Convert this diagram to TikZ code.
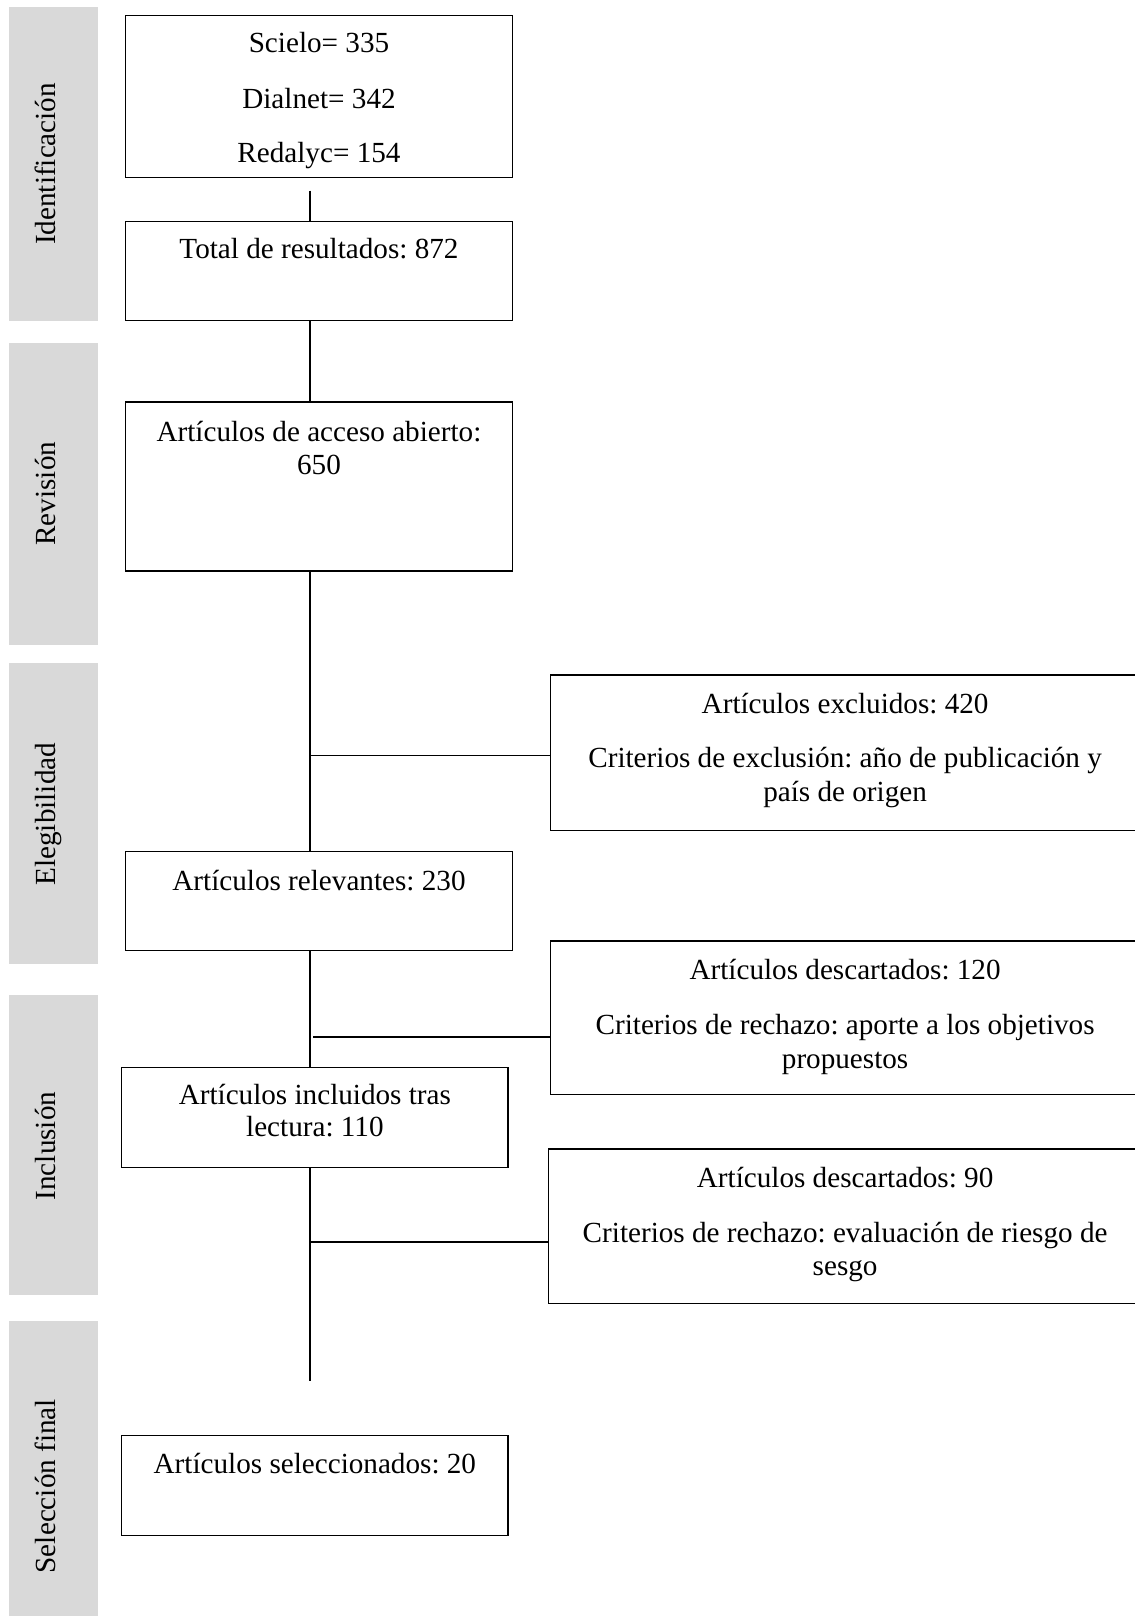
\documentclass[tikz,border=0pt]{standalone}
\usepackage{fontspec}
\setmainfont{Liberation Serif}
\frenchspacing
\definecolor{bandgray}{HTML}{D9D9D9}
\begin{document}
\begin{tikzpicture}[x=0.5pt,y=-0.5pt,
  band/.style={fill=bandgray, draw=none},
  boxn/.style={draw=black, line width=0.7pt, rectangle, inner sep=0pt, minimum width=187.5pt},
  txt/.style={anchor=base, inner sep=0pt, font=\fontsize{14.15pt}{16.25pt}\selectfont},
  bandtxt/.style={anchor=base, rotate=90, inner sep=0pt, font=\fontsize{14.15pt}{16.25pt}\selectfont},
  conn/.style={line width=0.85pt, draw=black}]
\useasboundingbox (0,0) rectangle (1101,1568);

% phase bands
\fill[band] (9,7) rectangle (95,311);
\fill[band] (9,333) rectangle (95,626);
\fill[band] (9,643) rectangle (95,935);
\fill[band] (9,965) rectangle (95,1257);
\fill[band] (9,1282) rectangle (95,1568);
\node[bandtxt] (p1) at (54,159) {Identificación};
\node[bandtxt] (p2) at (54,479) {Revisión};
\node[bandtxt] (p3) at (54,790) {Elegibilidad};
\node[bandtxt] (p4) at (54,1112) {Inclusión};
\node[bandtxt] (p5) at (54,1442) {Selección final};

% boxes
\node[boxn, minimum height=78.5pt] (b1) at (309.5,93.5) {};
\node[boxn, minimum height=48pt] (b2) at (309.5,263) {};
\node[boxn, minimum height=82pt] (b3) at (309.5,472) {};
\node[boxn, minimum width=286pt, minimum height=75.5pt] (b4) at (820,730.5) {};
\node[boxn, minimum height=48pt] (b5) at (309.5,874) {};
\node[boxn, minimum width=286pt, minimum height=74.5pt] (b6) at (820,987.5) {};
\node[boxn, minimum height=48.5pt] (b7) at (305.5,1084.5) {};
\node[boxn, minimum width=288pt, minimum height=75pt] (b8) at (820,1190) {};
\node[boxn, minimum height=48.5pt] (b9) at (305.5,1441.5) {};

% texts
\node[txt] (t1a) at (309.5,51) {Scielo= 335};
\node[txt] (t1b) at (309.5,105) {Dialnet= 342};
\node[txt] (t1c) at (309.5,158) {Redalyc= 154};
\node[txt] (t2) at (309.5,251) {Total de resultados: 872};
\node[txt] (t3a) at (309.5,428) {Artículos de acceso abierto:};
\node[txt] (t3b) at (309.5,460) {650};
\node[txt] (t4a) at (820,692) {Artículos excluidos: 420};
\node[txt] (t4b) at (820,745) {Criterios de exclusión: año de publicación y};
\node[txt] (t4c) at (820,778) {país de origen};
\node[txt] (t5) at (309.5,864) {Artículos relevantes: 230};
\node[txt] (t6a) at (820,950) {Artículos descartados: 120};
\node[txt] (t6b) at (820,1004) {Criterios de rechazo: aporte a los objetivos};
\node[txt] (t6c) at (820,1037) {propuestos};
\node[txt] (t7a) at (305.5,1072) {Artículos incluidos tras};
\node[txt] (t7b) at (305.5,1103) {lectura: 110};
\node[txt] (t8a) at (820,1152) {Artículos descartados: 90};
\node[txt] (t8b) at (820,1206) {Criterios de rechazo: evaluación de riesgo de};
\node[txt] (t8c) at (820,1238) {sesgo};
\node[txt] (t9) at (305.5,1430) {Artículos seleccionados: 20};

% connectors
\coordinate (sp) at (301,0);
\coordinate (l1top) at (301,185);
\coordinate (h1s) at (301,733);
\coordinate (h2s) at (304,1006);
\coordinate (h3s) at (302,1205);
\coordinate (l5end) at (301,1340);
\draw[conn] (l1top) -- (b2.north -| sp);
\draw[conn] (b2.south -| sp) -- (b3.north -| sp);
\draw[conn] (b3.south -| sp) -- (b5.north -| sp);
\draw[conn] (h1s) -- (h1s -| b4.west);
\draw[conn] (b5.south -| sp) -- (b7.north -| sp);
\draw[conn] (h2s) -- (h2s -| b6.west);
\draw[conn] (b7.south -| sp) -- (l5end);
\draw[conn] (h3s) -- (h3s -| b8.west);
\end{tikzpicture}
\end{document}
